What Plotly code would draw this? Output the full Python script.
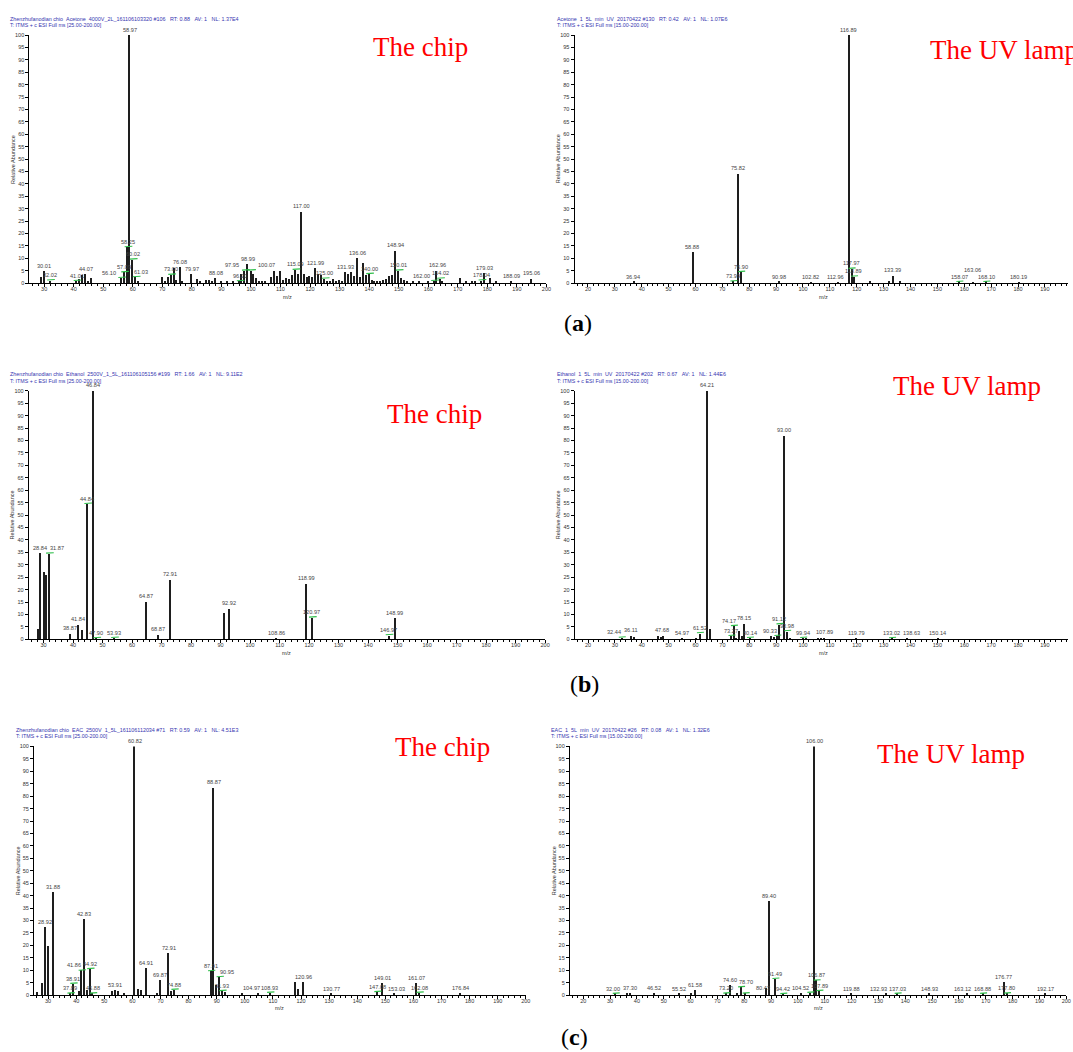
import plotly.graph_objects as go

W, H = 1073, 1052

# ---------------- DATA ----------------
# (a) Acetone - chip
a_chip_mz = [29.0, 30.01, 32.02, 41.01, 42.0, 43.0, 44.07, 45.0, 46.0, 56.10, 57.09, 58.25, 58.97, 60.02, 61.03, 62.0,
             70.0, 71.0, 72.0, 73.00, 74.0, 75.0, 76.08, 77.0, 79.97, 82.0, 83.0, 85.0, 86.0, 87.0, 88.08, 90.0, 92.0,
             94.0, 96.20, 97.0, 97.95, 98.99, 100.07, 101.0, 102.0, 103.0, 104.0, 105.0, 107.0, 108.0, 109.0, 110.0,
             111.0, 112.0, 113.0, 114.0, 115.09, 116.0, 117.00, 118.0, 119.0, 120.0, 121.0, 121.99, 123.0, 124.0,
             125.00, 126.0, 127.0, 128.0, 129.0, 130.0, 131.0, 131.93, 133.0, 134.0, 135.0, 136.06, 137.0, 138.0,
             139.0, 140.00, 141.0, 142.0, 143.0, 144.0, 145.0, 146.0, 147.0, 148.0, 148.94, 150.01, 151.0, 152.0,
             153.0, 155.0, 157.0, 160.0, 162.00, 162.96, 164.02, 165.0, 171.0, 173.0, 175.0, 176.0, 178.04, 179.03,
             181.0, 183.0, 188.09, 195.06]
a_chip_int = [2.3, 4.7, 1.0, 0.8, 1.6, 3.1, 3.6, 1.0, 2.0, 2.0, 4.3, 14.4, 100, 9.4, 2.3, 0.6,
              2.3, 1.0, 2.3, 3.3, 5.9, 1.3, 6.3, 0.5, 3.6, 1.6, 0.8, 1.2, 1.4, 1.0, 2.0, 0.5, 0.5,
              0.6, 0.7, 3.6, 5.0, 7.5, 5.0, 3.5, 2.0, 1.0, 0.7, 0.5, 2.3, 5.0, 2.7, 4.7,
              1.3, 2.1, 1.6, 3.1, 5.3, 3.6, 28.7, 3.7, 2.5, 2.8, 2.3, 6.0, 3.7, 3.1,
              1.7, 0.8, 0.8, 1.6, 0.8, 1.3, 0.8, 4.4, 3.6, 4.3, 2.7, 10.0, 2.3, 8.0,
              3.3, 3.6, 1.3, 0.8, 0.6, 0.8, 1.2, 1.6, 2.9, 3.3, 13.0, 5.0, 2.0, 1.3,
              0.6, 0.5, 0.5, 0.8, 0.8, 5.0, 1.7, 0.6, 1.9, 0.5, 0.6, 1.0, 1.0, 3.9,
              1.9, 0.5, 0.5, 1.7]
a_chip_labels = [30.01, 32.02, 41.01, 44.07, 56.10, 57.09, 58.25, 58.97, 60.02, 61.03, 73.00, 76.08, 79.97, 88.08,
                 96.20, 97.95, 98.99, 100.07, 115.09, 117.00, 121.99, 125.00, 131.93, 136.06, 140.00, 148.94,
                 150.01, 162.00, 162.96, 164.02, 178.04, 179.03, 188.09, 195.06]
a_chip_green = [32.02, 41.01, 56.10, 57.09, 58.25, 60.02, 61.03, 73.00, 96.20, 97.95, 100.07, 115.09, 125.00,
                140.00, 150.01, 162.00, 164.02, 178.04]

# (a) Acetone - UV lamp
a_uv_mz = [36.94, 58.88, 73.99, 75.82, 76.90, 90.98, 102.82, 112.96, 116.89, 117.97, 118.89, 125.0, 132.0,
           133.39, 136.0, 158.07, 163.06, 168.10, 180.19]
a_uv_int = [0.4, 12.4, 0.6, 44.1, 4.4, 0.4, 0.3, 0.3, 100, 5.7, 2.5, 0.5, 0.6,
            2.9, 0.9, 0.4, 0.3, 0.4, 0.3]
a_uv_labels = [36.94, 58.88, 73.99, 75.82, 76.90, 90.98, 102.82, 112.96, 116.89, 117.97, 118.89, 133.39,
               158.07, 163.06, 168.10, 180.19]
a_uv_green = [73.99, 76.90, 117.97, 118.89, 158.07, 168.10]

# (b) Ethanol - chip
b_chip_mz = [28.0, 28.84, 30.0, 31.0, 31.87, 38.87, 41.84, 43.0, 44.84, 46.84, 47.90, 53.93, 64.87, 68.87,
             72.91, 91.0, 92.92, 108.86, 118.99, 120.97, 146.97, 148.99]
b_chip_int = [4.3, 34.7, 27.2, 25.9, 34.4, 2.4, 5.9, 4.0, 54.4, 100, 0.4, 0.5, 15.1, 2.0,
              24.0, 10.7, 12.3, 0.5, 22.3, 8.7, 1.6, 8.5]
b_chip_labels = [28.84, 31.87, 38.87, 41.84, 44.84, 46.84, 47.90, 53.93, 64.87, 68.87, 72.91, 92.92, 108.86,
                 118.99, 120.97, 146.97, 148.99]
b_chip_green = [31.87, 44.84, 47.90, 53.93, 120.97, 146.97]

# (b) Ethanol - UV lamp
b_uv_mz = [32.44, 36.11, 37.0, 46.0, 47.0, 47.68, 54.97, 60.0, 61.52, 64.21, 65.2, 73.27, 74.17, 75.0, 76.1,
           77.1, 78.15, 80.14, 88.0, 89.0, 90.33, 91.12, 93.00, 93.98, 95.0, 99.94, 101.0, 105.5, 106.5,
           107.89, 119.79, 133.02, 138.63, 150.14]
b_uv_int = [0.6, 1.6, 1.2, 1.3, 1.0, 1.6, 0.3, 0.7, 2.4, 100, 4.3, 1.3, 5.3, 0.8, 3.3,
            1.6, 6.4, 0.5, 1.6, 1.0, 1.3, 6.0, 82.0, 3.2, 0.6, 0.5, 0.6, 0.7, 0.8,
            0.8, 0.3, 0.4, 0.4, 0.3]
b_uv_labels = [32.44, 36.11, 47.68, 54.97, 61.52, 64.21, 73.27, 74.17, 78.15, 80.14, 90.33, 91.12, 93.00,
               93.98, 99.94, 107.89, 119.79, 133.02, 138.63, 150.14]
b_uv_green = [32.44, 61.52, 73.27, 74.17, 80.14, 90.33, 91.12, 93.98, 99.94, 133.02]

# (c) EAC - chip
c_chip_mz = [26.0, 28.0, 28.92, 30.0, 31.88, 37.89, 38.91, 41.0, 41.86, 42.83, 44.0, 44.92, 45.88, 53.0,
             53.91, 55.0, 57.0, 60.82, 62.0, 63.0, 64.91, 69.0, 69.87, 72.91, 74.0, 74.88, 87.91, 88.87,
             89.9, 90.95, 91.93, 93.0, 99.0, 104.97, 108.93, 118.0, 119.0, 120.96, 130.77, 147.08, 149.01,
             153.03, 161.07, 162.08, 176.84]
c_chip_int = [1.1, 4.7, 27.0, 19.5, 41.3, 0.5, 4.4, 1.5, 9.7, 30.4, 2.0, 10.4, 0.5, 1.5,
              1.7, 1.5, 0.6, 100, 2.4, 1.7, 10.7, 0.6, 6.0, 16.7, 1.5, 2.0, 9.5, 83.3,
              3.7, 7.1, 1.5, 1.0, 0.5, 0.7, 0.8, 5.1, 2.3, 5.1, 0.3, 1.1, 4.7,
              0.3, 4.7, 0.8, 0.5]
c_chip_labels = [28.92, 31.88, 37.89, 38.91, 41.86, 42.83, 44.92, 45.88, 53.91, 60.82, 64.91, 69.87, 72.91,
                 74.88, 87.91, 88.87, 90.95, 91.93, 104.97, 108.93, 120.96, 130.77, 147.08, 149.01, 153.03,
                 161.07, 162.08, 176.84]
c_chip_green = [37.89, 38.91, 41.86, 44.92, 45.88, 74.88, 87.91, 90.95, 91.93, 108.93, 147.08, 162.08]

# (c) EAC - UV lamp
c_uv_mz = [32.00, 36.5, 37.30, 46.52, 55.52, 60.0, 61.58, 73.20, 74.60, 77.5, 78.70, 80.43, 88.3, 89.40,
           91.49, 94.42, 101.0, 104.52, 106.00, 106.87, 107.89, 119.88, 132.93, 137.03, 148.93, 163.12,
           168.88, 176.77, 177.80, 192.17]
c_uv_int = [0.4, 0.4, 0.5, 0.6, 0.4, 0.5, 2.0, 0.5, 3.7, 0.6, 3.0, 0.5, 2.7, 37.5,
            6.4, 0.3, 0.5, 0.8, 100, 5.7, 1.5, 0.3, 0.3, 0.4, 0.4, 0.3,
            0.4, 5.1, 0.5, 0.3]
c_uv_labels = [32.00, 37.30, 46.52, 55.52, 61.58, 73.20, 74.60, 78.70, 80.43, 89.40, 91.49, 94.42, 104.52,
               106.00, 106.87, 107.89, 119.88, 132.93, 137.03, 148.93, 163.12, 168.88, 176.77, 177.80, 192.17]
c_uv_green = [32.00, 73.20, 78.70, 80.43, 91.49, 94.42, 104.52, 106.87, 107.89, 137.03, 168.88, 177.80]

NB = "\u00a0"
headers = [
    f"Zhenzhufanodian chio{NB*2}Acetone{NB*2}4000V_2L_161106103320 #106{NB*3}RT: 0.88{NB*3}AV: 1{NB*3}NL: 1.37E4",
    f"Acetone{NB*2}1{NB*2}5L{NB*2}min{NB*2}UV{NB*2}20170422 #130{NB*3}RT: 0.42{NB*3}AV: 1{NB*3}NL: 1.07E6",
    f"Zhenzhufanodian chio{NB*2}Ethanol{NB*2}2500V_1_5L_161106105156 #199{NB*3}RT: 1.66{NB*3}AV: 1{NB*3}NL: 9.11E2",
    f"Ethanol{NB*2}1{NB*2}5L{NB*2}min{NB*2}UV{NB*2}20170422 #202{NB*3}RT: 0.67{NB*3}AV: 1{NB*3}NL: 1.44E6",
    f"Zhenzhufanodian chio{NB*2}EAC{NB*2}2500V{NB*2}1_5L_161106112034 #71{NB*3}RT: 0.59{NB*3}AV: 1{NB*3}NL: 4.51E3",
    f"EAC{NB*2}1{NB*2}5L{NB*2}min{NB*2}UV{NB*2}20170422 #26{NB*3}RT: 0.08{NB*3}AV: 1{NB*3}NL: 1.32E6",
]
scan_lines = ["T: ITMS + c ESI Full ms [25.00-200.00]", "T: ITMS + c ESI Full ms [15.00-200.00]"] * 3
tags = ["The chip", "The UV lamp"] * 3
captions = ["a", "b", "c"]

# ---------------- LAYOUT GEOMETRY (pixels) ----------------
panels = [
    dict(mz=a_chip_mz, it=a_chip_int, lab=a_chip_labels, gr=a_chip_green,
         x0=29.5, x1=549.0, yt=32.3, yb=281.7, xr=[25, 200], hx=8, tag=(373, 44)),
    dict(mz=a_uv_mz, it=a_uv_int, lab=a_uv_labels, gr=a_uv_green,
         x0=577.2, x1=1073.0, yt=32.3, yb=281.7, xr=[15, 198.6], hx=558, tag=(932, 47)),
    dict(mz=b_chip_mz, it=b_chip_int, lab=b_chip_labels, gr=b_chip_green,
         x0=28.9, x1=547.7, yt=390.0, yb=640.0, xr=[25, 200], hx=8, tag=(387, 413)),
    dict(mz=b_uv_mz, it=b_uv_int, lab=b_uv_labels, gr=b_uv_green,
         x0=577.3, x1=1073.0, yt=390.0, yb=640.0, xr=[15, 198.6], hx=558, tag=(895, 385)),
    dict(mz=c_chip_mz, it=c_chip_int, lab=c_chip_labels, gr=c_chip_green,
         x0=34.2, x1=528.3, yt=747.7, yb=997.7, xr=[25, 200], hx=14, tag=(395, 748)),
    dict(mz=c_uv_mz, it=c_uv_int, lab=c_uv_labels, gr=c_uv_green,
         x0=572.5, x1=1071.3, yt=747.7, yb=997.7, xr=[15, 200], hx=552, tag=(879, 755)),
]
caption_pos = [(581, 322), (587, 685), (577, 1040)]
LABEL_SIZE = 5.6


def px(x):
    return x / W


def py(y):
    return 1 - y / H


def place_labels(p, ppu):
    """Greedy placement (tallest first) avoiding label-label overlaps; returns {mz: (xshift, yshift)}."""
    yppu = (p["yb"] - p["yt"]) / 100.0
    boxes = []
    out = {}
    order = sorted(p["lab"], key=lambda m: -p["it"][p["mz"].index(m)])
    for m in order:
        h = p["it"][p["mz"].index(m)]
        txt = f"{m:.2f}"
        w = LABEL_SIZE * (0.556 * (len(txt) - 1) + 0.278) + 1
        hh = LABEL_SIZE * 1.15
        cx = p["x0"] + (m - p["xr"][0]) * ppu
        by = p["yb"] - h * yppu - 0.5
        cands = [(0, 0)]
        for k in range(1, 8):
            cands += [(k * 2.5, 0), (-k * 2.5, 0)]
        for k in range(1, 5):
            cands += [(0, -k * 3.5), (5, -k * 3.5), (-5, -k * 3.5)]
        chosen = cands[0]
        for dx, dy in cands:
            x0, x1 = cx + dx - w / 2, cx + dx + w / 2
            y1 = by + dy
            y0 = y1 - hh
            ok = all(x1 <= bx0 or x0 >= bx1 or y1 <= by0 or y0 >= by1 for bx0, bx1, by0, by1 in boxes)
            if ok:
                chosen = (dx, dy)
                break
        dx, dy = chosen
        boxes.append((cx + dx - w / 2, cx + dx + w / 2, by + dy - hh, by + dy))
        out[m] = (dx, -dy)
    return out


fig = go.Figure()
annotations = []
layout = {}
SANS = "Arial, Liberation Sans, sans-serif"
SERIF = "Times New Roman, Liberation Serif, serif"

for i, p in enumerate(panels):
    n = i + 1
    xa = "x" if n == 1 else f"x{n}"
    ya = "y" if n == 1 else f"y{n}"
    xkey = "xaxis" if n == 1 else f"xaxis{n}"
    ykey = "yaxis" if n == 1 else f"yaxis{n}"
    ppu = (p["x1"] - p["x0"]) / (p["xr"][1] - p["xr"][0])
    bw = 1.5 / ppu

    fig.add_trace(go.Bar(x=p["mz"], y=p["it"], width=bw, marker=dict(color="#1e1e1e", line=dict(width=0)),
                         xaxis=xa, yaxis=ya, hoverinfo="x+y"))

    # green marks
    gx, gy = [], []
    for m in p["gr"]:
        h = p["it"][p["mz"].index(m)]
        gx += [m - 1.0, m + 1.6, None]
        gy += [h + 0.25, h + 0.45, None]
    fig.add_trace(go.Scatter(x=gx, y=gy, mode="lines", line=dict(color="#2fbf4a", width=1.2),
                             xaxis=xa, yaxis=ya, hoverinfo="skip"))

    # peak labels
    shifts = place_labels(p, ppu)
    for m in p["lab"]:
        h = p["it"][p["mz"].index(m)]
        dx, dy = shifts[m]
        annotations.append(dict(x=m, y=h, xref=xa, yref=ya, text=f"{m:.2f}", showarrow=False,
                                yanchor="bottom", xanchor="center", xshift=dx, yshift=0.5 + dy,
                                font=dict(family=SANS, size=LABEL_SIZE, color="#444444")))

    layout[xkey] = dict(domain=[px(p["x0"]), min(1.0, px(p["x1"]))], range=p["xr"], anchor=ya,
                        showline=True, linecolor="black", linewidth=1, ticks="outside", ticklen=3,
                        tickcolor="black", tickwidth=1, dtick=10, tick0=0, showgrid=False, zeroline=False,
                        tickfont=dict(family=SANS, size=5.5, color="#333333"), ticklabelstandoff=-3,
                        minor=dict(ticks="outside", ticklen=2, dtick=2, tickcolor="black", tickwidth=1,
                                   showgrid=False),
                        fixedrange=True)
    layout[ykey] = dict(domain=[py(p["yb"]), py(p["yt"])], range=[0, 100], anchor=xa,
                        showline=True, linecolor="black", linewidth=1, ticks="outside", ticklen=3,
                        tickcolor="black", tickwidth=1, dtick=5, tick0=0, showgrid=False, zeroline=False,
                        tickfont=dict(family=SANS, size=5.5, color="#333333"), fixedrange=True)

    # headers
    annotations.append(dict(x=px(p["hx"]), y=py(p["yt"] - 16.6), xref="paper", yref="paper", text=headers[i],
                            showarrow=False, xanchor="left", yanchor="middle",
                            font=dict(family=SANS, size=5.4, color="#3535b0")))
    annotations.append(dict(x=px(p["hx"]), y=py(p["yt"] - 10.2), xref="paper", yref="paper", text=scan_lines[i],
                            showarrow=False, xanchor="left", yanchor="middle",
                            font=dict(family=SANS, size=5.3, color="#3535b0")))
    # axis titles
    annotations.append(dict(x=px(p["x0"] - 16.5), y=py((p["yt"] + p["yb"]) / 2), xref="paper", yref="paper",
                            text="Relative Abundance", textangle=-90, showarrow=False,
                            xanchor="center", yanchor="middle",
                            font=dict(family=SANS, size=5.5, color="#333333")))
    xc = p["x0"] + (200 - p["xr"][0]) * ppu / 2
    annotations.append(dict(x=px(xc), y=py(p["yb"] + 13.5), xref="paper", yref="paper", text="m/z",
                            showarrow=False, xanchor="center", yanchor="middle",
                            font=dict(family=SANS, size=5.5, color="#333333")))
    # tag text
    annotations.append(dict(x=px(p["tag"][0]), y=py(p["tag"][1]), xref="paper", yref="paper", text=tags[i],
                            showarrow=False, xanchor="left", yanchor="middle",
                            font=dict(family=SERIF, size=27, color="#ff0000")))

for c, (cx, cy) in zip(captions, caption_pos):
    annotations.append(dict(x=px(cx), y=py(cy), xref="paper", yref="paper", text=f"(<b>{c}</b>)",
                            showarrow=False, xanchor="center", yanchor="middle",
                            font=dict(family=SERIF, size=24, color="black")))

fig.update_layout(width=W, height=H, margin=dict(l=0, r=0, t=0, b=0), paper_bgcolor="white",
                  plot_bgcolor="white", showlegend=False, annotations=annotations, bargap=0,
                  barmode="overlay", **layout)

fig.write_html("out.html")
